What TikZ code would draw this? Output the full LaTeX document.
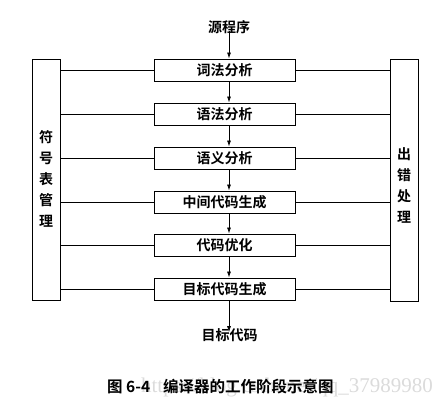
\documentclass[tikz,border=0pt]{standalone}
\usepackage{fontspec}
\newfontfamily\cjk{Noto Sans CJK SC}[BoldFont={Noto Sans CJK SC Bold}]
\newfontfamily\wmfont{Liberation Serif}
\usetikzlibrary{arrows.meta}
\tikzset{
  stagebox/.style={draw, line width=0.9pt, minimum width=141pt, minimum height=22pt, inner sep=0pt,
    font=\cjk\bfseries\fontsize{14}{14}\selectfont},
  sidebox/.style={draw, line width=0.9pt, minimum width=28pt, inner sep=0pt},
  sidetext/.style={align=center, inner sep=0pt, font=\cjk\bfseries\fontsize{14}{21}\selectfont},
  plain/.style={inner sep=0pt, font=\cjk\bfseries\fontsize{14}{14}\selectfont},
  flow/.style={line width=0.8pt, -{Latex[length=6pt,width=4pt]}},
  link/.style={line width=0.8pt}
}
\begin{document}
\begin{tikzpicture}[x=1pt,y=-1pt]
\useasboundingbox (0,0) rectangle (443,405);
% watermark
\node[anchor=east, inner sep=0pt, text=gray!28, font=\wmfont\fontsize{21}{21}\selectfont] (wm) at (433,387) {https://blog.csdn.net/qq\_37989980};
% caption
\node[anchor=west, inner sep=0pt, font=\cjk\bfseries\fontsize{15.5}{15.5}\selectfont] (cap) at (107,387) {图 6-4\hspace{13pt}编译器的工作阶段示意图};
% side boxes
\node[sidebox, minimum height=241pt] (sym) at (46,179.5) {};
\node[sidebox, minimum height=242pt] (err) at (404,180) {};
\node[sidetext] (symt) at (46,178.5) {符\\号\\表\\管\\理};
\node[sidetext] (errt) at (404,185) {出\\错\\处\\理};
% stages
\node[stagebox] (b1) at (224.5,70) {词法分析};
\node[stagebox] (b2) at (224.5,114) {语法分析};
\node[stagebox] (b3) at (224.5,158) {语义分析};
\node[stagebox] (b4) at (224.5,202) {中间代码生成};
\node[stagebox] (b5) at (224.5,245) {代码优化};
\node[stagebox] (b6) at (224.5,289) {目标代码生成};
\node[plain] (src) at (229,27.5) {源程序};
\node[plain] (out) at (229.5,335) {目标代码};
% arrows
\draw[flow] ([yshift=3pt]src.south) -- (b1.north -| src.south);
\foreach \a/\b in {b1/b2,b2/b3,b3/b4,b4/b5,b5/b6}
  \draw[flow] ([xshift=4.5pt]\a.south) -- ([xshift=4.5pt]\b.north);
\draw[flow] ([xshift=4.5pt]b6.south) -- ([xshift=-0.5pt,yshift=-4pt]out.north);
% links
\foreach \b in {b1,b2,b3,b4,b5,b6}{
  \draw[link] (sym.east |- \b.west) -- (\b.west);
  \draw[link] (\b.east) -- (err.west |- \b.east);
}
\end{tikzpicture}
\end{document}
